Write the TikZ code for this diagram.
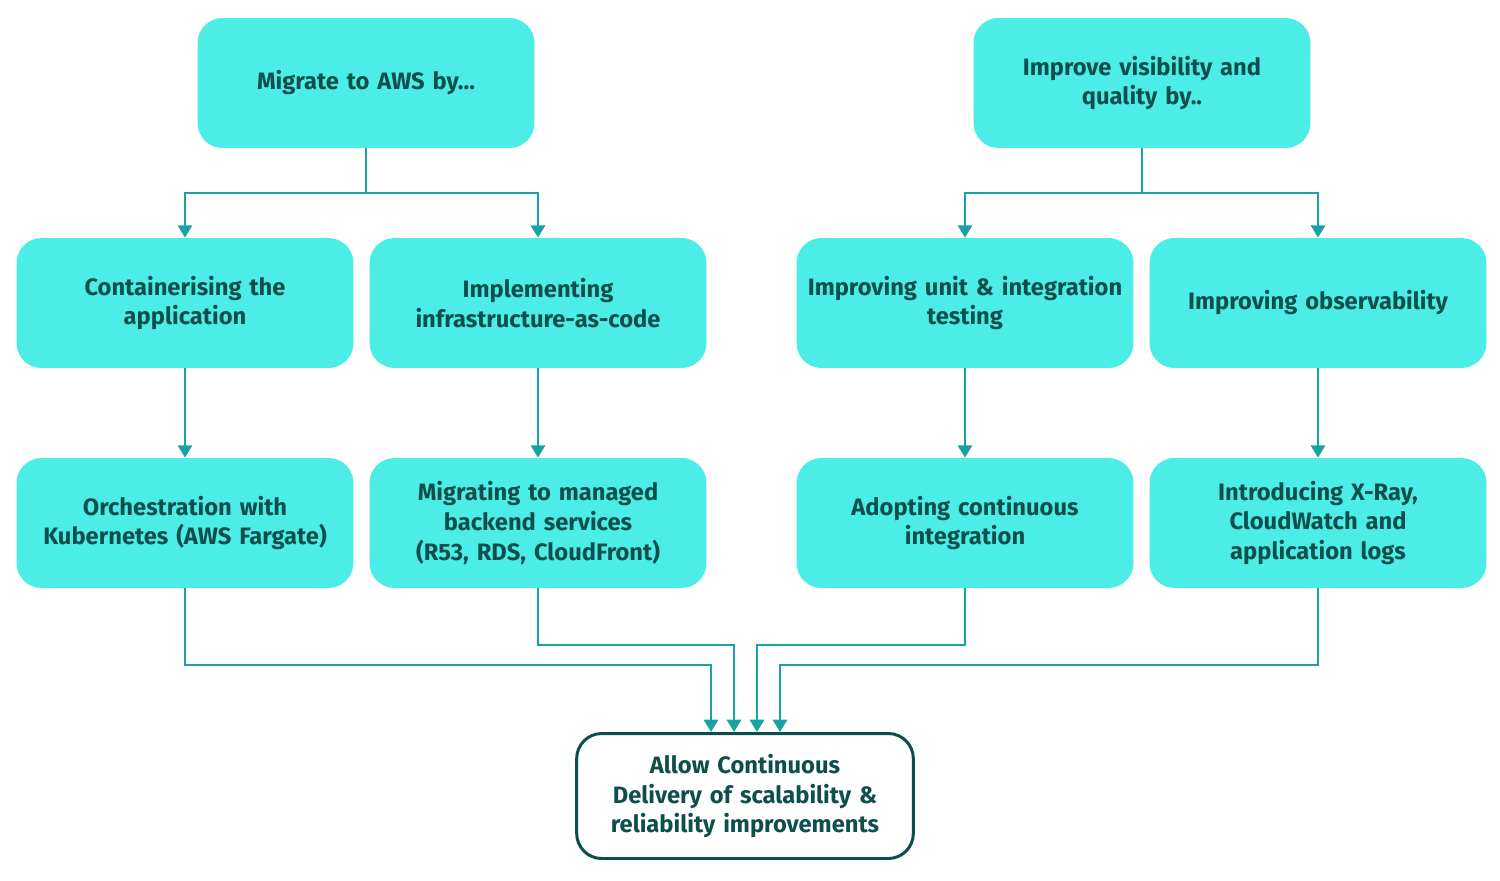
\documentclass[tikz,border=0pt]{standalone}
\usepackage{fontspec}
\setmainfont{Fira Sans}
\usetikzlibrary{arrows.meta,calc}
\definecolor{boxc}{HTML}{4BEDE6}
\definecolor{linec}{HTML}{17A3A5}
\definecolor{txtc}{HTML}{0E4F4C}
\definecolor{bordc}{HTML}{0B4F4A}
\tikzset{
 box/.style={draw=none,fill=boxc,rounded corners=0.5cm,minimum width=6.74cm,minimum height=2.6cm,text width=6.5cm,align=center,text=txtc,font=\fontsize{13.5}{17}\selectfont\bfseries},
 endbox/.style={box,fill=white,draw=bordc,line width=1.7pt,minimum width=6.65cm,minimum height=2.5cm},
 arr/.style={draw=linec,line width=1.6pt,-{Triangle[length=7pt,width=8pt]}},
 ln/.style={draw=linec,line width=1.6pt}
}
\begin{document}
\begin{tikzpicture}[x=0.02cm,y=-0.02cm]
\useasboundingbox (0,0) rectangle (1500,880);
\node[box] (m) at (366,83) {Migrate to AWS by...};
\node[box] (v) at (1142,83) {Improve visibility and\\quality by..};
\node[box] (c1) at (185,303) {Containerising the\\application};
\node[box] (c2) at (538,303) {Implementing\\infrastructure-as-code};
\node[box] (c3) at (965,303) {Improving unit \& integration\\testing};
\node[box] (c4) at (1318,303) {Improving observability};
\node[box] (o1) at (185,523) {Orchestration with\\Kubernetes (AWS Fargate)};
\node[box] (o2) at (538,523) {Migrating to managed\\backend services\\(R53, RDS, CloudFront)};
\node[box] (o3) at (965,523) {Adopting continuous\\integration};
\node[box] (o4) at (1318,523) {Introducing X-Ray,\\CloudWatch and\\application logs};
\node[endbox] (b) at (745,796) {Allow Continuous\\Delivery of scalability \&\\reliability improvements};
\coordinate (s1) at (366,193);
\coordinate (s2) at (1142,193);
\draw[ln] (m.south) -- (s1);
\draw[arr] (s1) -| (c1.north);
\draw[arr] (s1) -| (c2.north);
\draw[ln] (v.south) -- (s2);
\draw[arr] (s2) -| (c3.north);
\draw[arr] (s2) -| (c4.north);
\foreach \i in {1,...,4}{\draw[arr] (c\i.south) -- (o\i.north);}
\coordinate (t1) at (711,665);
\coordinate (t2) at (734,645);
\coordinate (t3) at (757,645);
\coordinate (t4) at (780,665);
\foreach \i in {1,...,4}{\draw[arr] (o\i.south) |- (t\i) -- (t\i |- b.north);}
\end{tikzpicture}
\end{document}
